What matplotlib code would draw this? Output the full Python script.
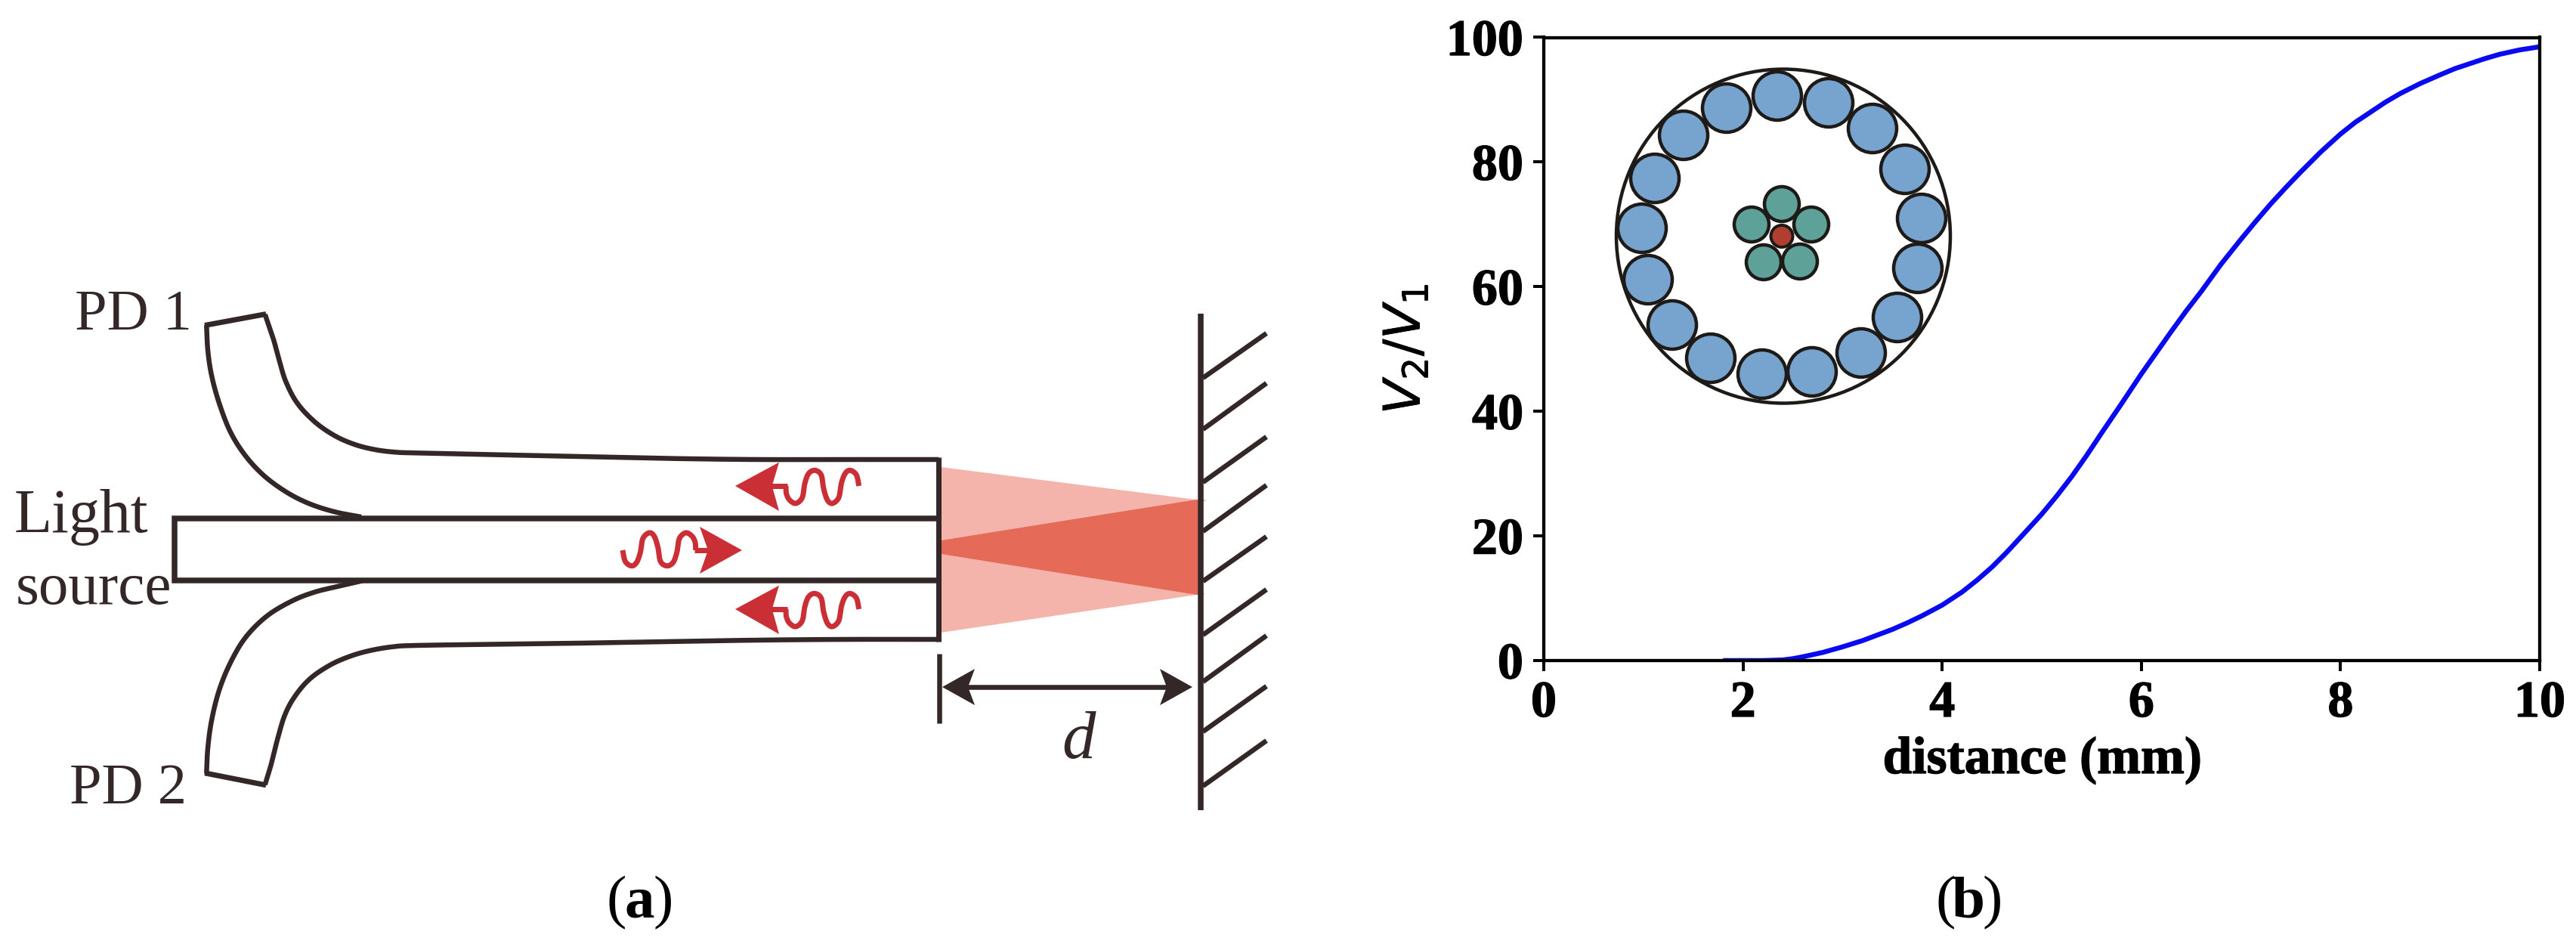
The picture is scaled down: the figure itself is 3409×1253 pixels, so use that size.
import numpy as np
import matplotlib
matplotlib.use("Agg")
import matplotlib.pyplot as plt
import matplotlib.patheffects as pe
from matplotlib.patches import Circle, Polygon

plt.rcParams["font.family"] = ["Liberation Serif", "DejaVu Serif"]
plt.rcParams["mathtext.fontset"] = "dejavusans"

W, H = 3409, 1253
DPI = 100
PX = 72.0 / DPI  # one pixel in points

# -----------------------------
# (b) measured curve
# -----------------------------
distance = [1.8, 2.2, 2.4, 2.5, 2.6, 2.7, 2.8, 3.0, 3.2, 3.35, 3.5, 3.65, 3.8, 4.0, 4.2, 4.35, 4.5, 4.65, 4.8, 5.0, 5.15, 5.3,
            5.45, 5.6, 5.8, 6.0, 6.15, 6.3, 6.45, 6.6, 6.8, 7.0, 7.15, 7.3, 7.45, 7.6, 7.8, 8.0, 8.15, 8.3, 8.45, 8.6, 8.8,
            9.0, 9.15, 9.3, 9.45, 9.6, 9.8, 10.0]
ratio = [0.0, 0.0, 0.1, 0.3, 0.6, 0.95, 1.3, 2.2, 3.2, 4.1, 5.0, 6.05, 7.2, 8.9, 11.0, 12.9, 15.0, 17.4, 20.0, 23.5, 26.4, 29.5,
         32.9, 36.5, 41.2, 46.0, 49.4, 52.8, 56.1, 59.2, 63.6, 67.6, 70.5, 73.3, 75.9, 78.4, 81.6, 84.5, 86.4, 88.0, 89.6, 91.0, 92.6,
         94.0, 95.0, 95.8, 96.6, 97.3, 98.0, 98.5]
x_ticks = [0, 2, 4, 6, 8, 10]
y_ticks = [0, 20, 40, 60, 80, 100]

# -----------------------------
# (a) schematic outlines, pixels
# -----------------------------
fiber1_outer = [(350.7, 416), (361.7, 448.3), (370, 478.3), (378.3, 505), (393.3, 533.3), (416.7, 558.3), (443.3, 576.7), (470, 588.3),
                (496.7, 595), (523.3, 598.3), (550, 599.3), (650, 601.5), (765, 604), (880, 606.5), (1000, 608), (1120, 608), (1242, 608)]
fiber1_inner = [(273.3, 430), (275, 463.3), (280, 496.7), (290, 533.3), (305, 571.7), (325, 603.3), (350, 630), (380, 651.7),
                (410, 666.7), (443.3, 677.3), (478, 684)]
fiber2_outer = [(350.7, 1038.3), (358.3, 1013.3), (366.7, 980), (376.7, 946.7), (390, 921.7), (410, 898.3), (436.7, 880), (463.3, 868.3),
                (490, 860.7), (520, 855.7), (550, 854), (650, 852.5), (765, 851), (880, 849), (1000, 847), (1120, 846), (1242, 846)]
fiber2_inner = [(273.3, 1023.3), (275, 990), (280, 953.3), (290, 913.3), (305, 876.7), (325, 843.3), (353.3, 815), (386.7, 795),
                (416.7, 783.3), (446.7, 776), (480, 768.3)]
fiber1_end = [(271, 430.5), (352, 415.5)]
fiber2_end = [(271, 1022.8), (352, 1038.8)]
source_outline = [(1242, 686), (231, 686), (231, 768), (1242, 768)]

wall_x = 1589
wall_y = [415, 1072]
hatch_start_y = [500, 568, 638, 703, 769, 840, 902, 968, 1040]
hatch_end_y = [441, 507, 578, 642, 710, 780, 841, 908, 980]

beam_light = [[(1245, 618), (1590, 662), (1245, 715)], [(1245, 733), (1590, 786), (1245, 837)]]
beam_dark = [(1245, 715), (1584, 661), (1597, 662), (1587, 664), (1587, 784), (1595, 786), (1584, 787), (1245, 733)]

# wave of the returning light, from shaft end to free end
wave_x = [1040, 1040.7, 1045, 1053.3, 1061.7, 1065, 1070, 1078.3, 1086.7, 1090, 1095, 1101.7, 1110, 1113.3, 1118.3, 1125, 1133.3, 1136.7]
wave_y = [643, 653.3, 661.7, 666, 658.3, 640, 626.7, 622.3, 628.3, 646.7, 661.7, 666, 658.3, 640, 626.7, 622.3, 628.3, 643]
lower_wave_shift = 163

# -----------------------------
# (b) inset fibre bundle, pixels
# -----------------------------
bundle_center = (2360, 312.5)
bundle_radius = 221
outer_cores = [(2352, 127), (2420, 136), (2478, 170), (2521, 224), (2543, 289), (2538, 355), (2511, 420), (2463, 467), (2398, 492),
               (2332, 495), (2264, 474), (2213, 430), (2181, 370), (2173, 302), (2190, 236), (2228, 179), (2285, 143)]
inner_cores = [(2358, 270), (2397, 297), (2382, 346), (2334, 347), (2318, 297)]
center_core = (2358, 312.5)

INK = "#332727"
RED = "#C92F35"
BUNDLE_INK = "#1E1A18"
HEAVY = [pe.withStroke(linewidth=1.3 * PX, foreground="black")]


def smooth(pts, n=14):
    # Catmull-Rom through the outline points
    p = np.array(pts, dtype=float)
    p = np.vstack([2 * p[0] - p[1], p, 2 * p[-1] - p[-2]])
    out = []
    for i in range(1, len(p) - 2):
        t = np.linspace(0, 1, n, endpoint=False)[:, None]
        out.append(0.5 * (2 * p[i] + (p[i + 1] - p[i - 1]) * t
                          + (2 * p[i - 1] - 5 * p[i] + 4 * p[i + 1] - p[i + 2]) * t ** 2
                          + (3 * p[i] - p[i - 1] - 3 * p[i + 1] + p[i + 2]) * t ** 3))
    out.append(p[-2:-1])
    return np.vstack(out)


fig = plt.figure(figsize=(W / DPI, H / DPI), dpi=DPI, facecolor="white")

# -----------------------------
# Chart (b)
# -----------------------------
ax = fig.add_axes([2043 / W, 1 - 874 / H, (3361 - 2043) / W, (874 - 49.5) / H])
ax.plot(distance, ratio, color="#0A0AF0", lw=6.5 * PX, solid_capstyle="butt")
ax.set_xlim(0, 10)
ax.set_ylim(0, 100)
ax.set_xticks(x_ticks)
ax.set_yticks(y_ticks)
ax.tick_params(length=14 * PX, width=4 * PX, pad=13 * PX, labelsize=49)
for lab in ax.get_xticklabels() + ax.get_yticklabels():
    lab.set_fontweight("bold")
    lab.set_path_effects(HEAVY)
for s in ax.spines.values():
    s.set_linewidth(4.3 * PX)

# -----------------------------
# Overlay in pixels: schematic, inset, texts
# -----------------------------
ov = fig.add_axes([0, 0, 1, 1], facecolor="none")
ov.set_xlim(0, W)
ov.set_ylim(H, 0)
ov.axis("off")

for tri in beam_light:
    ov.add_patch(Polygon(tri, closed=True, fc="#F4B4AB", ec="none", zorder=1))
ov.add_patch(Polygon(beam_dark, closed=True, fc="#E56A57", ec="none", zorder=1.5))


def ink(pts, lw=6.5, color=INK, z=2, curved=False):
    a = smooth(pts) if curved else np.array(pts, dtype=float)
    ov.plot(a[:, 0], a[:, 1], color=color, lw=lw * PX, zorder=z,
            solid_capstyle="butt", solid_joinstyle="miter")


for curve in [fiber1_outer, fiber1_inner, fiber2_outer, fiber2_inner]:
    ink(curve, curved=True)
ink(fiber1_end, lw=7)
ink(fiber2_end, lw=7)
ink(source_outline, lw=7.5)
ink([(1242, 605), (1242, 849)], lw=7)

# mirror
ink([(wall_x, wall_y[0]), (wall_x, wall_y[1])], lw=7.5)
for y0, y1 in zip(hatch_start_y, hatch_end_y):
    ink([(wall_x + 3, y0), (1676, y1)], lw=6.5)

# distance arrow
ink([(1243, 865), (1243, 957)], lw=6.5)
ink([(1270, 909), (1555, 909)], lw=6.5)
ov.add_patch(Polygon([(1247, 909), (1290, 885), (1281, 909), (1290, 933)], closed=True, fc=INK, ec="none", zorder=3))
ov.add_patch(Polygon([(1578, 909), (1535, 885), (1544, 909), (1535, 933)], closed=True, fc=INK, ec="none", zorder=3))

# light inside the fibres
back_wave = list(zip(wave_x, wave_y))
for dy in [0, lower_wave_shift]:
    ink([(x, y + dy) for x, y in back_wave], lw=7, color=RED, z=4, curved=True)
    ink([(1015, 643 + dy), (1042, 643 + dy)], lw=7, color=RED, z=4)
    ov.add_patch(Polygon([(973, 643 + dy), (1031, 611.7 + dy), (1021.7, 643 + dy), (1031, 676 + dy)],
                         closed=True, fc=RED, ec="none", zorder=4))
# outgoing wave is the same shape turned by half a turn
out_wave = [(824 + 1136.7 - x, 728 - (y - 643)) for x, y in reversed(back_wave)]
ink(out_wave, lw=7, color=RED, z=4, curved=True)
ink([(out_wave[-1][0] - 2, 728), (945, 728)], lw=7, color=RED, z=4)
ov.add_patch(Polygon([(982, 728), (926, 697), (937, 728), (926, 759)], closed=True, fc=RED, ec="none", zorder=4))

# inset
ov.add_patch(Circle(bundle_center, bundle_radius, fc="white", ec=BUNDLE_INK, lw=4.5 * PX, zorder=5))
for c in outer_cores:
    ov.add_patch(Circle(c, 32, fc="#77A4CF", ec=BUNDLE_INK, lw=4.5 * PX, zorder=6))
for c in inner_cores:
    ov.add_patch(Circle(c, 23, fc="#5EA198", ec=BUNDLE_INK, lw=4.5 * PX, zorder=6))
ov.add_patch(Circle(center_core, 14.5, fc="#B13F31", ec=BUNDLE_INK, lw=4 * PX, zorder=7))

# texts
label_kw = dict(color=INK, va="baseline", zorder=8)
ov.text(99, 436, "PD 1", ha="left", fontsize=55, **label_kw)
ov.text(92, 1063, "PD 2", ha="left", fontsize=55, **label_kw)
ov.text(19, 704, "Light", ha="left", fontsize=59, **label_kw)
ov.text(21, 799, "source", ha="left", fontsize=57, **label_kw)
ov.text(1428, 1003, "d", ha="center", style="italic", fontsize=64, **label_kw)

for cx, letter in [(846, "a"), (2605, "b")]:
    ov.text(cx - 17, 1213, "(", ha="right", va="baseline", fontsize=57, color="black")
    ov.text(cx, 1213, letter, ha="center", va="baseline", fontsize=57, fontweight="bold", color="black")
    ov.text(cx + 18, 1213, ")", ha="left", va="baseline", fontsize=57, color="black")

ov.text(2703, 1023, "distance (mm)", ha="center", va="baseline", fontsize=50, fontweight="bold", color="black",
        path_effects=HEAVY)
ov.text(1860, 462, r"$V_2/V_1$", ha="center", va="center", rotation=90, fontsize=48, color="black",
        path_effects=[pe.withStroke(linewidth=0.8 * PX, foreground="black")])

fig.savefig("out.png", dpi=DPI)
